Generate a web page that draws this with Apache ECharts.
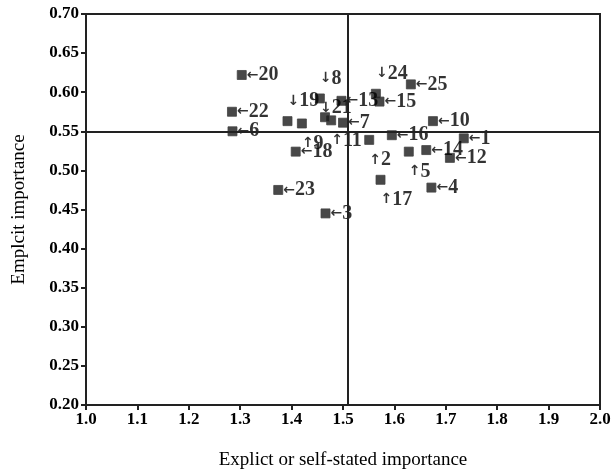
<!DOCTYPE html>
<html><head><meta charset="utf-8">
<script src="https://cdn.jsdelivr.net/npm/echarts@6/dist/echarts.min.js"></script>
<style>html,body{margin:0;padding:0;background:#fff}#c{width:614px;height:472px}</style>
</head><body><div id="c"></div>
<script>
var itemNames = ['1','2','3','4','5','6','7','8','9','10','11','12','13','14','15','16','17','18','19','20','21','22','23','24','25'];
var explicitVals = [1.735,1.551,1.466,1.672,1.628,1.285,1.500,1.455,1.420,1.675,1.477,1.708,1.497,1.662,1.571,1.595,1.573,1.408,1.392,1.303,1.465,1.284,1.374,1.564,1.632];
var implicitVals = [0.541,0.539,0.445,0.478,0.524,0.550,0.561,0.592,0.560,0.563,0.564,0.516,0.589,0.526,0.588,0.545,0.488,0.524,0.563,0.622,0.568,0.575,0.475,0.598,0.610];
var meanExplicit = 1.512;
var meanImplicit = 0.549;
var xTicks = ['1.0','1.1','1.2','1.3','1.4','1.5','1.6','1.7','1.8','1.9','2.0'];
var yTicks = ['0.20','0.25','0.30','0.35','0.40','0.45','0.50','0.55','0.60','0.65','0.70'];

// annotation placement (layout only)
var fromAbove = {'8':1,'19':1,'24':1};
var fromBelow = {'9':1,'11':1,'2':1,'5':1,'17':1};
var tightAbove = {'21':1};

var FONT = '"Liberation Serif","Times New Roman",serif';
var data = itemNames.map(function(n,i){
  var lbl;
  if (tightAbove[n]) {
    lbl = {position:[0,-4], align:'left', verticalAlign:'middle', formatter:'{a|↓}{n|'+n+'}'};
  } else if (fromAbove[n]) {
    lbl = {position:'top', align:'left', offset:[-6,3], formatter:'{a|↓}{n|'+n+'}'};
  } else if (fromBelow[n]) {
    lbl = {position:'bottom', align:'left', offset:[-6,-3], formatter:'{a|↑}{n|'+n+'}'};
  } else {
    lbl = {position:'right', distance:0, formatter:'{a|←}{n|'+n+'}'};
  }
  return {value:[explicitVals[i], implicitVals[i]], name:n, label:lbl};
});

var chart = echarts.init(document.getElementById('c'));
chart.setOption({
  animation:false,
  backgroundColor:'#fff',
  grid:{left:86, right:14, top:14, bottom:67, containLabel:false, outerBoundsMode:'none',
    show:true, borderColor:'#222', borderWidth:2, backgroundColor:'transparent'},
  xAxis:{
    type:'value', min:1.0, max:2.0, interval:0.1,
    name:'Explict or self-stated importance', nameLocation:'middle', nameGap:46,
    nameTextStyle:{fontFamily:FONT, fontSize:19, color:'#000'},
    axisLine:{show:true, lineStyle:{color:'#222', width:2}},
    axisTick:{show:true, inside:false, length:5, lineStyle:{color:'#222', width:2}},
    axisLabel:{fontFamily:FONT, fontSize:17, fontWeight:'bold', color:'#000', margin:6,
      formatter:function(v){ return xTicks[Math.round((v-1.0)/0.1)]; }},
    splitLine:{show:false}
  },
  yAxis:{
    type:'value', min:0.20, max:0.70, interval:0.05,
    name:'Emplcit importance', nameLocation:'middle', nameGap:57,
    nameTextStyle:{fontFamily:FONT, fontSize:19, color:'#000'},
    axisLine:{show:true, lineStyle:{color:'#222', width:2}},
    axisTick:{show:true, inside:false, length:5, lineStyle:{color:'#222', width:2}},
    axisLabel:{fontFamily:FONT, fontSize:17, fontWeight:'bold', color:'#000', margin:7,
      formatter:function(v){ return yTicks[Math.round((v-0.20)/0.05)]; }},
    splitLine:{show:false}
  },
  series:[{
    type:'scatter',
    symbol:'rect', symbolSize:9,
    itemStyle:{color:'#1a1a1a', borderColor:'#444', borderWidth:1},
    label:{show:true, fontFamily:FONT, fontSize:20, fontWeight:'bold', color:'#000', textBorderWidth:0,
      rich:{
        a:{fontFamily:'"DejaVu Sans",sans-serif', fontSize:14, fontWeight:'bold', color:'#000'},
        n:{fontFamily:FONT, fontSize:20, fontWeight:'bold', color:'#000'}
      }},
    labelLayout:{hideOverlap:false},
    data:data,
    markLine:{
      silent:true, symbol:['none','none'], animation:false,
      label:{show:false},
      lineStyle:{color:'#222', width:2, type:'solid'},
      data:[{xAxis:meanExplicit},{yAxis:meanImplicit}]
    }
  }]
});
</script>
</body></html>
